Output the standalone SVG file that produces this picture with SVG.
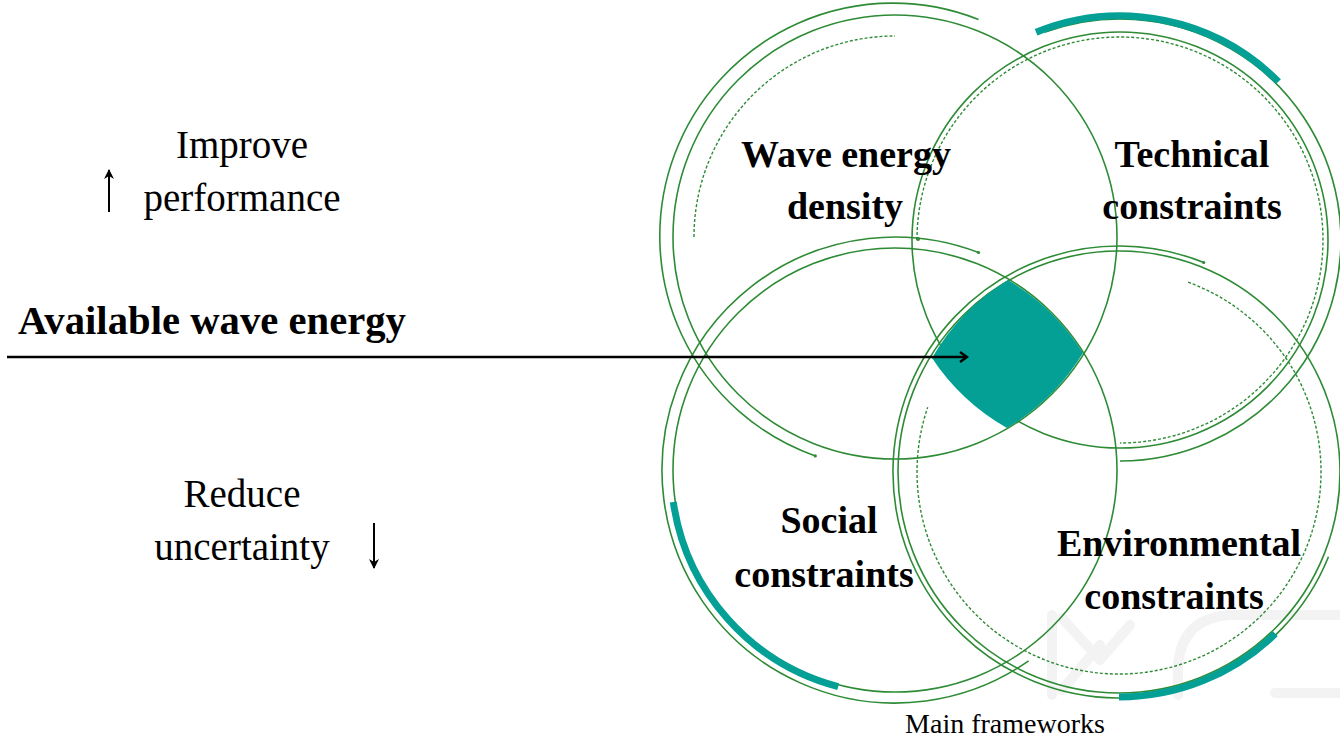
<svg xmlns="http://www.w3.org/2000/svg" width="1340" height="742" viewBox="0 0 1340 742">
<style>
.ln{fill:none;stroke:#2e8b35;stroke-width:1.6}
.ds{fill:none;stroke:#2e8b35;stroke-width:1.4;stroke-dasharray:3 2}
.tl{fill:none;stroke:#05a095;stroke-width:7}
.lbl{font-family:"Liberation Serif","Times New Roman",serif;font-weight:bold;font-size:38px;fill:#000;text-anchor:middle}
.txt{font-family:"Liberation Serif","Times New Roman",serif;font-size:39px;fill:#000;text-anchor:middle}
.wm{fill:none;stroke:#f3f3f3;stroke-width:10;stroke-linecap:round;stroke-linejoin:round}
</style>
<defs>
<marker id="ah" viewBox="0 0 10 10" refX="9" refY="5" markerWidth="5" markerHeight="5" orient="auto" markerUnits="strokeWidth">
<path d="M0,0 L10,5 L0,10 L3,5 Z" fill="#000"/>
</marker>
<marker id="chev" viewBox="0 0 12 12" refX="10" refY="6" markerWidth="12" markerHeight="12" orient="auto" markerUnits="userSpaceOnUse">
<path d="M3,1 L10,6 L3,11" fill="none" stroke="#000" stroke-width="2.4" stroke-linejoin="miter"/>
</marker>
</defs>
<rect width="1340" height="742" fill="#fff"/>
<g id="watermark" class="wm">
<path d="M1052,615 L1052,695"/>
<path d="M1062,618 L1100,660 L1130,625"/>
<path d="M1062,690 L1100,645"/>
<path d="M1178,695 L1178,665 Q1182,618 1230,615 L1340,615"/>
<path d="M1275,693 L1340,693"/>
</g>
<g id="wave-energy-density">
<circle class="ln" cx="895" cy="237" r="222"/>
<path class="ln" d="M815.3,455.9 A233,233 0 1 1 978.5,19.5"/>
<path class="ds" d="M694,237 A201,201 0 0 1 895,36"/>
<circle cx="815.3" cy="455.9" r="1.6" fill="#2e8b35"/>
</g>
<g id="technical-constraints">
<circle class="ln" cx="1120" cy="240" r="208"/>
<path class="ln" d="M1044.4,32.3 A221,221 0 1 1 1120,461"/>
<path class="ds" d="M917,240 A203,203 0 1 1 1120,443"/>
<path class="tl" d="M1036.1,32.3 A224,224 0 0 1 1278.4,81.6"/>
<circle cx="918" cy="239" r="2" fill="#2e8b35"/>
</g>
<g id="social-constraints">
<circle class="ln" cx="895" cy="470" r="222"/>
<path class="ln" d="M1028.6,660.9 A233,233 0 1 1 978.5,252.5"/>
<path class="tl" d="M838.2,686.7 A224,224 0 0 1 673.3,501.9"/>
<circle cx="978.5" cy="252.5" r="1.6" fill="#2e8b35"/>
</g>
<g id="environmental-constraints">
<circle class="ln" cx="1119" cy="472" r="221"/>
<path class="ln" d="M1328.5,556.7 A226,226 0 1 1 1203.7,262.5"/>
<path class="ds" d="M1188.1,282.2 A202,202 0 1 1 927.7,407.2"/>
<path class="tl" d="M1275.3,633.8 A225,225 0 0 1 1119,697"/>
<circle cx="1203.7" cy="262.5" r="1.6" fill="#2e8b35"/>
</g>
<g id="core">
<path d="M932,358 A220,220 0 0 1 1008,280 A221,221 0 0 1 1083,353 A221,221 0 0 1 1007,428 A220,220 0 0 1 932,358 Z" fill="#05a095"/>
</g>
<g id="connectors" stroke="#000" fill="none">
<line x1="7" y1="357" x2="967" y2="357" stroke-width="2.4" marker-end="url(#chev)"/>
<line x1="109" y1="212" x2="109" y2="170" stroke-width="2" marker-end="url(#ah)"/>
<line x1="374" y1="523" x2="374" y2="568" stroke-width="2" marker-end="url(#ah)"/>
</g>
<g id="labels">
<text class="lbl" x="846" y="167">Wave energy</text>
<text class="lbl" x="845" y="219">density</text>
<text class="lbl" x="1192" y="167">Technical</text>
<text class="lbl" x="1192" y="219">constraints</text>
<text class="lbl" x="829" y="533">Social</text>
<text class="lbl" x="824" y="587">constraints</text>
<text class="lbl" x="1179" y="556">Environmental</text>
<text class="lbl" x="1174" y="609">constraints</text>
<text x="1005" y="733" font-family="Liberation Serif, Times New Roman, serif" font-size="28" text-anchor="middle" fill="#000">Main frameworks</text>
</g>
<g id="side-text">
<text class="txt" x="242" y="158">Improve</text>
<text class="txt" x="242" y="211">performance</text>
<text x="18" y="334" font-family="Liberation Serif, Times New Roman, serif" font-weight="bold" font-size="40.7" fill="#000">Available wave energy</text>
<text class="txt" x="242" y="507">Reduce</text>
<text class="txt" x="242" y="560">uncertainty</text>
</g>
</svg>
